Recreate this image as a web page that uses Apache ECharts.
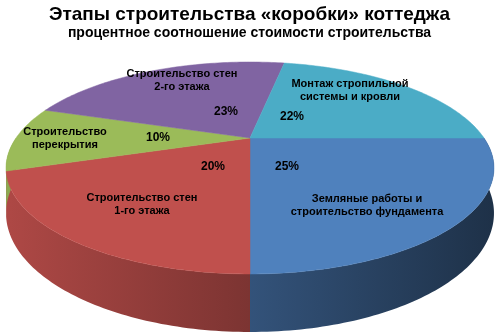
<!DOCTYPE html>
<html>
<head>
<meta charset="utf-8">
<script src="https://cdn.jsdelivr.net/npm/echarts@6/dist/echarts.min.js"></script>
<style>
  html, body { margin: 0; padding: 0; background: #fff; }
  #main { width: 499px; height: 336px; }
</style>
</head>
<body>
<div id="main"></div>
<script>
// slices in drawing order, clockwise from 3 o'clock
const names = [
  'Земляные работы и\nстроительство фундамента',
  'Строительство стен\n1-го этажа',
  'Строительство\nперекрытия',
  'Строительство стен\n2-го этажа',
  'Монтаж стропильной\nсистемы и кровли'
]
const values = [25, 20, 10, 23, 22]
const colors = ['#4f81bd', '#c0504d', '#9bbb59', '#8064a2', '#4bacc6']
// label offsets from pie centre: [nameDx, nameDy, pctDx, pctDy]
const labelPos = [[117, 67, 37, 29], [-108, 66, -37, 29], [-185, 0, -92, 0], [-68, -58, -24, -26], [100, -48, 42, -21]]

const total = values.reduce((s, v) => s + v, 0)
const FONT = '"Liberation Sans", Arial, sans-serif'

// pie "camera"
const cx = 250, cy = 138, rx = 234, ry = 97.5, persp = 0.283, depth = 41.6

const proj = (deg, f) => {
  const t = deg * Math.PI / 180
  const k = f === undefined ? 1 : f
  const w = 1 - persp * k * Math.sin(t)
  return [cx + rx * k * Math.cos(t) / w, cy + ry * k * Math.sin(t) / w, w]
}
const shade = (hex, x) => {
  let f = 0.89 - (x - 20) * 0.00107
  f = Math.max(0.35, Math.min(0.95, f))
  const n = parseInt(hex.slice(1), 16)
  const r = Math.round(((n >> 16) & 255) * f)
  const g = Math.round(((n >> 8) & 255) * f)
  const b = Math.round((n & 255) * f)
  return 'rgb(' + r + ',' + g + ',' + b + ')'
}

let acc = 0
const data = values.map((v, i) => {
  const d = { name: names[i], value: [acc, v] }
  acc += v
  return d
})

const angles = (api) => {
  const s = api.value(0) / total * 360
  const e = s + api.value(1) / total * 360
  return [s, e]
}

const renderWall = (params, api) => {
  const [s, e] = angles(api)
  const a0 = Math.max(s, 0), a1 = Math.min(e, 180)
  if (a1 <= a0) return { type: 'group', children: [] }
  const top = [], bottom = []
  const steps = Math.max(2, Math.ceil(a1 - a0))
  for (let k = 0; k <= steps; k++) {
    const deg = a0 + (a1 - a0) * k / steps
    const p = proj(deg)
    top.push([p[0], p[1]])
    bottom.push([p[0], p[1] + depth / p[2]])
  }
  const xs = top.map(p => p[0])
  const xMin = Math.min.apply(null, xs) - 10, xMax = Math.max.apply(null, xs)
  const c = colors[params.dataIndex]
  return {
    type: 'polygon',
    shape: { points: top.concat(bottom.reverse()) },
    style: {
      fill: new echarts.graphic.LinearGradient(xMin, 0, xMax, 0, [
        { offset: 0, color: shade(c, xMin) },
        { offset: 1, color: shade(c, xMax) }
      ], true),
      stroke: null
    }
  }
}

const renderTop = (params, api) => {
  const [s, e] = angles(api)
  const i = params.dataIndex
  const pts = [[cx, cy]]
  const steps = Math.max(2, Math.ceil(e - s))
  for (let k = 0; k <= steps; k++) {
    const p = proj(s + (e - s) * k / steps)
    pts.push([p[0], p[1]])
  }
  const lp = labelPos[i]
  return {
    type: 'group',
    children: [
      { type: 'polygon', shape: { points: pts }, style: { fill: colors[i], stroke: colors[i], lineWidth: 0.5 } },
      {
        type: 'text', x: cx + lp[0], y: cy + lp[1],
        style: { text: names[i], fill: '#000', font: 'bold 11px ' + FONT, align: 'center', verticalAlign: 'middle', lineHeight: 13 }
      },
      {
        type: 'text', x: cx + lp[2], y: cy + lp[3],
        style: { text: Math.round(api.value(1) / total * 100) + '%', fill: '#000', font: 'bold 12px ' + FONT, align: 'center', verticalAlign: 'middle' }
      }
    ]
  }
}

const myChart = echarts.init(document.getElementById('main'))
myChart.setOption({
  animation: false,
  title: {
    text: 'Этапы строительства «коробки» коттеджа',
    subtext: 'процентное соотношение стоимости строительства',
    left: 'center',
    top: 0,
    itemGap: 2,
    textStyle: { color: '#000', fontSize: 19, fontWeight: 'bold', fontFamily: FONT },
    subtextStyle: { color: '#000', fontSize: 14, fontWeight: 'bold', fontFamily: FONT }
  },
  series: [
    { type: 'custom', coordinateSystem: 'none', z: 1, renderItem: renderWall, data: data },
    { type: 'custom', coordinateSystem: 'none', z: 2, renderItem: renderTop, data: data }
  ]
})
</script>
</body>
</html>
